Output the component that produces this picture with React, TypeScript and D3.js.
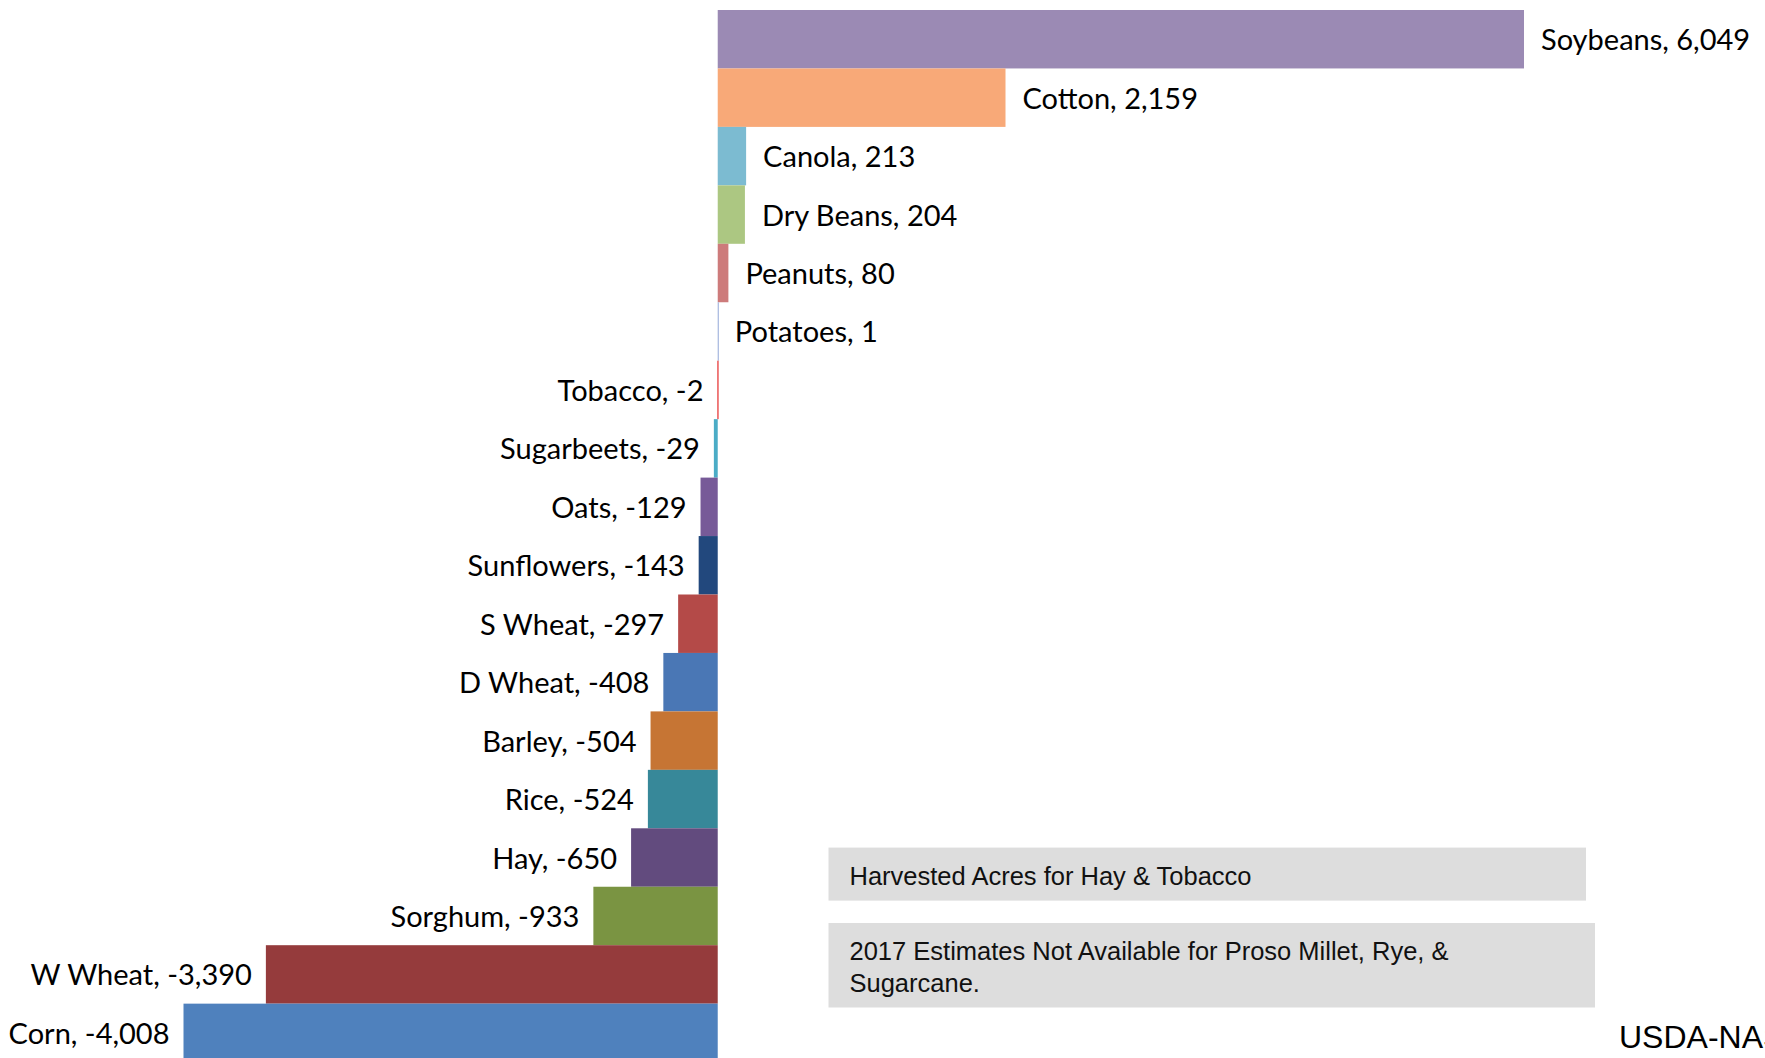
import React, { useEffect, useRef } from "react";
import * as d3 from "d3";

const crops = [
    "Soybeans", "Cotton", "Canola", "Dry Beans", "Peanuts", "Potatoes",
    "Tobacco", "Sugarbeets", "Oats", "Sunflowers", "S Wheat", "D Wheat",
    "Barley", "Rice", "Hay", "Sorghum", "W Wheat", "Corn"
];
const acreChange = [
    6049, 2159, 213, 204, 80, 1,
    -2, -29, -129, -143, -297, -408,
    -504, -524, -650, -933, -3390, -4008
];
const cropColors = [
    "#9b8ab4", "#f8a978", "#7cbbd1", "#acc782", "#cd7b7b", "#93a8d8",
    "#e00000", "#4bacc6", "#775a98", "#22487d", "#b44a48", "#4a77b5",
    "#c67534", "#378899", "#624b7e", "#7a9442", "#953b3c", "#4f81bd"
];
const noteLines = [
    ["Harvested Acres for Hay & Tobacco"],
    ["2017 Estimates Not Available for Proso Millet, Rye, &", "Sugarcane."]
];
const sourceText = "USDA-NASS";

const App = () => {
    const svgRef = useRef<SVGSVGElement>(null);

    useEffect(() => {
        const width = 1765, height = 1058;
        const svg = d3.select(svgRef.current)
            .attr("width", width)
            .attr("height", height);

        svg.selectAll("*").remove();

        const rows = crops.map((c, i) => ({ crop: c, value: acreChange[i], color: cropColors[i] }));

        const x = d3.scaleLinear()
            .domain(d3.extent(acreChange) as [number, number])
            .range([183.5, 1524]);

        const y = d3.scaleBand()
            .domain(crops)
            .range([10, 10 + crops.length * 58.45])
            .padding(0);

        // bars (at least 1px so the tiny ones still show)
        svg.selectAll(".bar")
            .data(rows)
            .enter()
            .append("rect")
            .attr("class", "bar")
            .attr("x", d => Math.min(x(0), x(d.value)))
            .attr("y", d => y(d.crop)!)
            .attr("width", d => Math.max(1, Math.abs(x(d.value) - x(0))))
            .attr("height", y.bandwidth())
            .attr("fill", d => d.color);

        // plain hyphen for negatives, like the original
        const fmt = (v: number) => d3.format(",")(v).replace("\u2212", "-");

        svg.selectAll(".lbl")
            .data(rows)
            .enter()
            .append("text")
            .attr("class", "lbl")
            .attr("x", d => d.value >= 0 ? x(d.value) + 17 : x(d.value) - 14)
            .attr("y", d => y(d.crop)! + y.bandwidth() / 2)
            .attr("dy", "0.38em")
            .attr("text-anchor", d => d.value >= 0 ? "start" : "end")
            .attr("font-family", "Lato, sans-serif")
            .attr("font-size", 29)
            .attr("fill", "#000")
            .text(d => `${d.crop}, ${fmt(d.value)}`);

        // note boxes
        const boxes = [
            { x: 828.5, y: 847.6, w: 757.5, h: 53, lines: noteLines[0] },
            { x: 828.5, y: 923, w: 766.5, h: 84.5, lines: noteLines[1] }
        ];
        const nb = svg.append("g");
        boxes.forEach(b => {
            nb.append("rect")
                .attr("x", b.x)
                .attr("y", b.y)
                .attr("width", b.w)
                .attr("height", b.h)
                .attr("fill", "#dddddd");
            b.lines.forEach((ln, i) => {
                nb.append("text")
                    .attr("x", b.x + 21)
                    .attr("y", b.y + 37 + i * 32)
                    .attr("font-family", "'Liberation Sans', Arial, sans-serif")
                    .attr("font-size", 25.5)
                    .attr("fill", "#111")
                    .text(ln);
            });
        });

        svg.append("text")
            .attr("x", 1619)
            .attr("y", 1048)
            .attr("font-family", "'Liberation Sans', Arial, sans-serif")
            .attr("font-size", 32)
            .attr("fill", "#000")
            .text(sourceText);
    }, []);

    return (
        <div style={{ position: "absolute", left: 0, top: 0, width: 1765, height: 1058, overflow: "hidden", background: "#fff" }}>
            <svg ref={svgRef} style={{ display: "block" }}></svg>
        </div>
    );
};

export default App;
